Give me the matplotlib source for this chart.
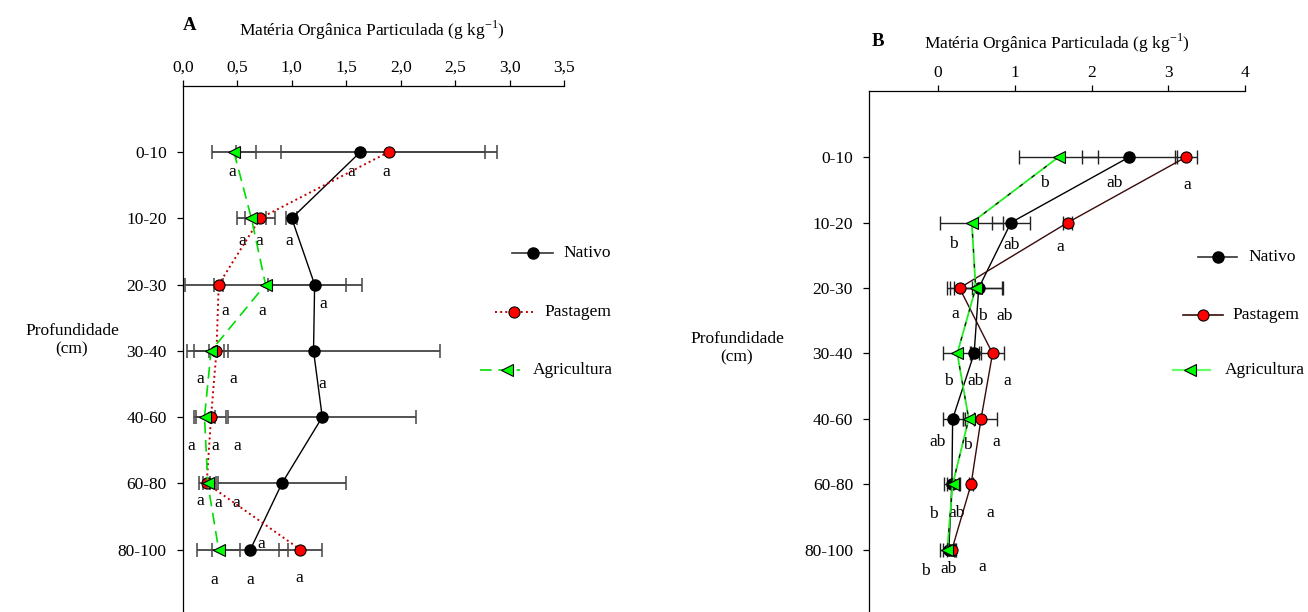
import matplotlib
matplotlib.use('Agg')
import matplotlib.pyplot as plt
import numpy as np

plt.rcParams['font.family'] = ['Liberation Serif', 'DejaVu Serif']
plt.rcParams['mathtext.fontset'] = 'custom'
plt.rcParams['mathtext.rm'] = 'Liberation Serif'

W, H = 1308, 612
FS = 12.5

depths = ['0-10', '10-20', '20-30', '30-40', '40-60', '60-80', '80-100']
series = ['Nativo', 'Pastagem', 'Agricultura']

# painel A
a_nativo = [1.63, 1.00, 1.21, 1.20, 1.28, 0.91, 0.62]
a_nativo_err = [1.14, 0.05, 0.43, 1.16, 0.86, 0.59, 0.35]
a_pastagem = [1.89, 0.71, 0.33, 0.31, 0.26, 0.22, 1.08]
a_pastagem_err = [0.99, 0.14, 0.04, 0.07, 0.14, 0.03, 0.20]
a_agri = [0.47, 0.63, 0.76, 0.26, 0.20, 0.23, 0.33]
a_agri_err = [0.20, 0.13, 0.74, 0.16, 0.10, 0.08, 0.20]
a_xticks = [0.0, 0.5, 1.0, 1.5, 2.0, 2.5, 3.0, 3.5]
a_xticklabels = ['0,0', '0,5', '1,0', '1,5', '2,0', '2,5', '3,0', '3,5']
a_letters = ['a'] * 22
a_letter_x = [0.45, 1.55, 1.87, 0.55, 0.70, 0.975, 0.39, 0.73, 1.29,
              0.16, 0.46, 1.28, 0.08, 0.30, 0.50, 0.16, 0.33, 0.49, 0.29, 0.62, 1.07, 0.72]
a_letter_y = [0.30, 0.30, 0.30, 1.34, 1.34, 1.34, 2.40, 2.40, 2.29,
              3.42, 3.42, 3.50, 4.43, 4.43, 4.43, 5.27, 5.29, 5.29, 6.46, 6.46, 6.43, 5.91]

# painel B
b_nativo = [2.49, 0.95, 0.53, 0.47, 0.19, 0.18, 0.14]
b_nativo_err = [0.62, 0.25, 0.32, 0.06, 0.13, 0.10, 0.08]
b_pastagem = [3.23, 1.69, 0.28, 0.71, 0.56, 0.43, 0.18]
b_pastagem_err = [0.14, 0.06, 0.16, 0.15, 0.21, 0.03, 0.06]
b_agri = [1.57, 0.44, 0.49, 0.25, 0.40, 0.19, 0.12]
b_agri_err = [0.51, 0.41, 0.34, 0.18, 0.07, 0.08, 0.09]
b_xticks = [0, 1, 2, 3, 4]
b_letters = ['b', 'ab', 'a', 'b', 'ab', 'a', 'a', 'b', 'ab', 'b', 'ab', 'a',
             'ab', 'b', 'a', 'b', 'ab', 'a', 'b', 'ab', 'a']
b_letter_x = [1.38, 2.30, 3.25, 0.20, 0.96, 1.59, 0.23, 0.58, 0.87, 0.14, 0.49, 0.90,
              0.00, 0.38, 0.76, -0.06, 0.24, 0.68, -0.16, 0.14, 0.57]
b_letter_y = [0.40, 0.40, 0.42, 1.33, 1.34, 1.37, 2.40, 2.43, 2.43, 3.42, 3.42, 3.42,
              4.36, 4.40, 4.36, 5.46, 5.43, 5.44, 6.32, 6.30, 6.27]


def rect(l, t, r, b):
    return [l / W, 1 - b / H, (r - l) / W, (b - t) / H]


fig = plt.figure(figsize=(W / 100, H / 100), dpi=100)

axA = fig.add_axes(rect(182.7, 86, 564.3, 612))
axB = fig.add_axes(rect(869, 91, 1245, 612))

ypos = np.arange(len(depths))


def style_axes(ax, xlim, ylim, xticks, xticklabels):
    ax.set_xlim(*xlim)
    ax.set_ylim(*ylim)
    ax.spines['right'].set_visible(False)
    ax.spines['bottom'].set_visible(False)
    ax.xaxis.tick_top()
    ax.set_xticks(xticks)
    ax.set_xticklabels(xticklabels)
    ax.set_yticks(ypos)
    ax.set_yticklabels(depths)
    ax.tick_params(axis='x', direction='out', length=4.5, width=0.9, labelsize=FS, pad=3)
    ax.tick_params(axis='y', direction='out', length=4.5, width=0.9, labelsize=FS, pad=7)
    for s in ['left', 'top']:
        ax.spines[s].set_linewidth(0.9)


def superscript_label(x, y, fs):
    # "(g kg-1)" com expoente em fonte menor, como no original
    t = fig.text(x / W, 1 - y / H, 'Matéria Orgânica Particulada (g kg',
                 ha='left', va='baseline', fontsize=fs)
    return t


# ---- A ----
style_axes(axA, (0, 3.5), (6.94, -0.995), a_xticks, a_xticklabels)
for vals, errs in [(a_nativo, a_nativo_err), (a_pastagem, a_pastagem_err), (a_agri, a_agri_err)]:
    axA.errorbar(vals, ypos, xerr=errs, fmt='none', ecolor='#444444', elinewidth=1.3,
                 capsize=5, capthick=1.1, zorder=1)
axA.plot(a_nativo, ypos, '-', color='black', lw=1.0, marker='o', ms=8,
         mfc='black', mec='black', zorder=3)
axA.plot(a_pastagem, ypos, ':', color='#c00000', lw=1.4, marker='o', ms=8,
         mfc='#ff0000', mec='black', mew=0.8, zorder=4)
axA.plot(a_agri, ypos, '--', dashes=(7, 4), color='#00dd00', lw=1.2, marker='<', ms=8,
         mfc='#00ff00', mec='black', mew=0.8, zorder=5)
for t, x, y in zip(a_letters, a_letter_x, a_letter_y):
    axA.text(x, y, t, ha='center', va='center', fontsize=FS)

# legenda A
axA.plot([3.02, 3.40], [1.52, 1.52], '-', color='#333333', lw=1.2, clip_on=False)
axA.plot([3.21], [1.52], 'o', ms=8, mfc='black', mec='black', clip_on=False)
axA.text(3.49, 1.52, 'Nativo', va='center', ha='left', fontsize=FS)
axA.plot([2.86, 3.23], [2.41, 2.41], ':', color='#c00000', lw=1.4, clip_on=False)
axA.plot([3.04], [2.41], 'o', ms=8, mfc='#ff0000', mec='black', mew=0.8, clip_on=False)
axA.text(3.32, 2.41, 'Pastagem', va='center', ha='left', fontsize=FS)
axA.plot([2.73, 3.09], [3.29, 3.29], '--', dashes=(7, 4), color='#00dd00', lw=1.2, clip_on=False)
axA.plot([2.97], [3.29], '<', ms=8, mfc='#00ff00', mec='black', mew=0.8, clip_on=False)
axA.text(3.21, 3.29, 'Agricultura', va='center', ha='left', fontsize=FS)

# ---- B ----
style_axes(axB, (-0.9, 4.0), (6.95, -1.01), b_xticks, [str(v) for v in b_xticks])
for vals, errs in [(b_nativo, b_nativo_err), (b_pastagem, b_pastagem_err), (b_agri, b_agri_err)]:
    axB.errorbar(vals, ypos, xerr=errs, fmt='none', ecolor='#222222', elinewidth=1.0,
                 capsize=5, capthick=1.0, zorder=1)
axB.plot(b_nativo, ypos, '-', color='black', lw=1.0, marker='o', ms=8,
         mfc='black', mec='black', zorder=3)
axB.plot(b_pastagem, ypos, '-', color='#3a0a0a', lw=1.0, marker='o', ms=8,
         mfc='#ff0000', mec='black', mew=0.8, zorder=4)
axB.plot(b_agri, ypos, '-', color='#22ee22', lw=1.3, zorder=5)
axB.plot(b_agri, ypos, '--', dashes=(3, 9), color='#111111', lw=0.9, marker='<', ms=8,
         mfc='#00ff00', mec='black', mew=0.8, zorder=5)
for t, x, y in zip(b_letters, b_letter_x, b_letter_y):
    axB.text(x, y, t, ha='center', va='center', fontsize=FS)

# legenda B
axB.plot([3.39, 3.90], [1.52, 1.52], '-', color='#333333', lw=1.2, clip_on=False)
axB.plot([3.65], [1.52], 'o', ms=8, mfc='black', mec='black', clip_on=False)
axB.text(4.04, 1.52, 'Nativo', va='center', ha='left', fontsize=FS)
axB.plot([3.19, 3.71], [2.41, 2.41], '-', color='#3a0a0a', lw=1.2, clip_on=False)
axB.plot([3.45], [2.41], 'o', ms=8, mfc='#ff0000', mec='black', mew=0.8, clip_on=False)
axB.text(3.84, 2.41, 'Pastagem', va='center', ha='left', fontsize=FS)
axB.plot([3.06, 3.54], [3.25, 3.25], '-', color='#66ff66', lw=1.6, clip_on=False)
axB.plot([3.28], [3.25], '<', ms=8, mfc='#00ff00', mec='black', mew=0.8, clip_on=False)
axB.text(3.74, 3.25, 'Agricultura', va='center', ha='left', fontsize=FS)

# titulos e rotulos
xlabel = 'Matéria Orgânica Particulada (g kg$^{\\mathregular{-1}}$)'
fig.text(190 / W, 1 - 25 / H, 'A', ha='center', va='center', fontsize=13.5, fontweight='bold')
fig.text(372 / W, 1 - 30 / H, xlabel, ha='center', va='center', fontsize=FS)
fig.text(878 / W, 1 - 42 / H, 'B', ha='center', va='center', fontsize=13.5, fontweight='bold')
fig.text(1057 / W, 1 - 43 / H, xlabel, ha='center', va='center', fontsize=FS)
fig.text(72 / W, 1 - 340 / H, 'Profundidade\n(cm)', ha='center', va='center', fontsize=FS)
fig.text(737 / W, 1 - 348 / H, 'Profundidade\n(cm)', ha='center', va='center', fontsize=FS)

fig.savefig('out.png', dpi=100)
